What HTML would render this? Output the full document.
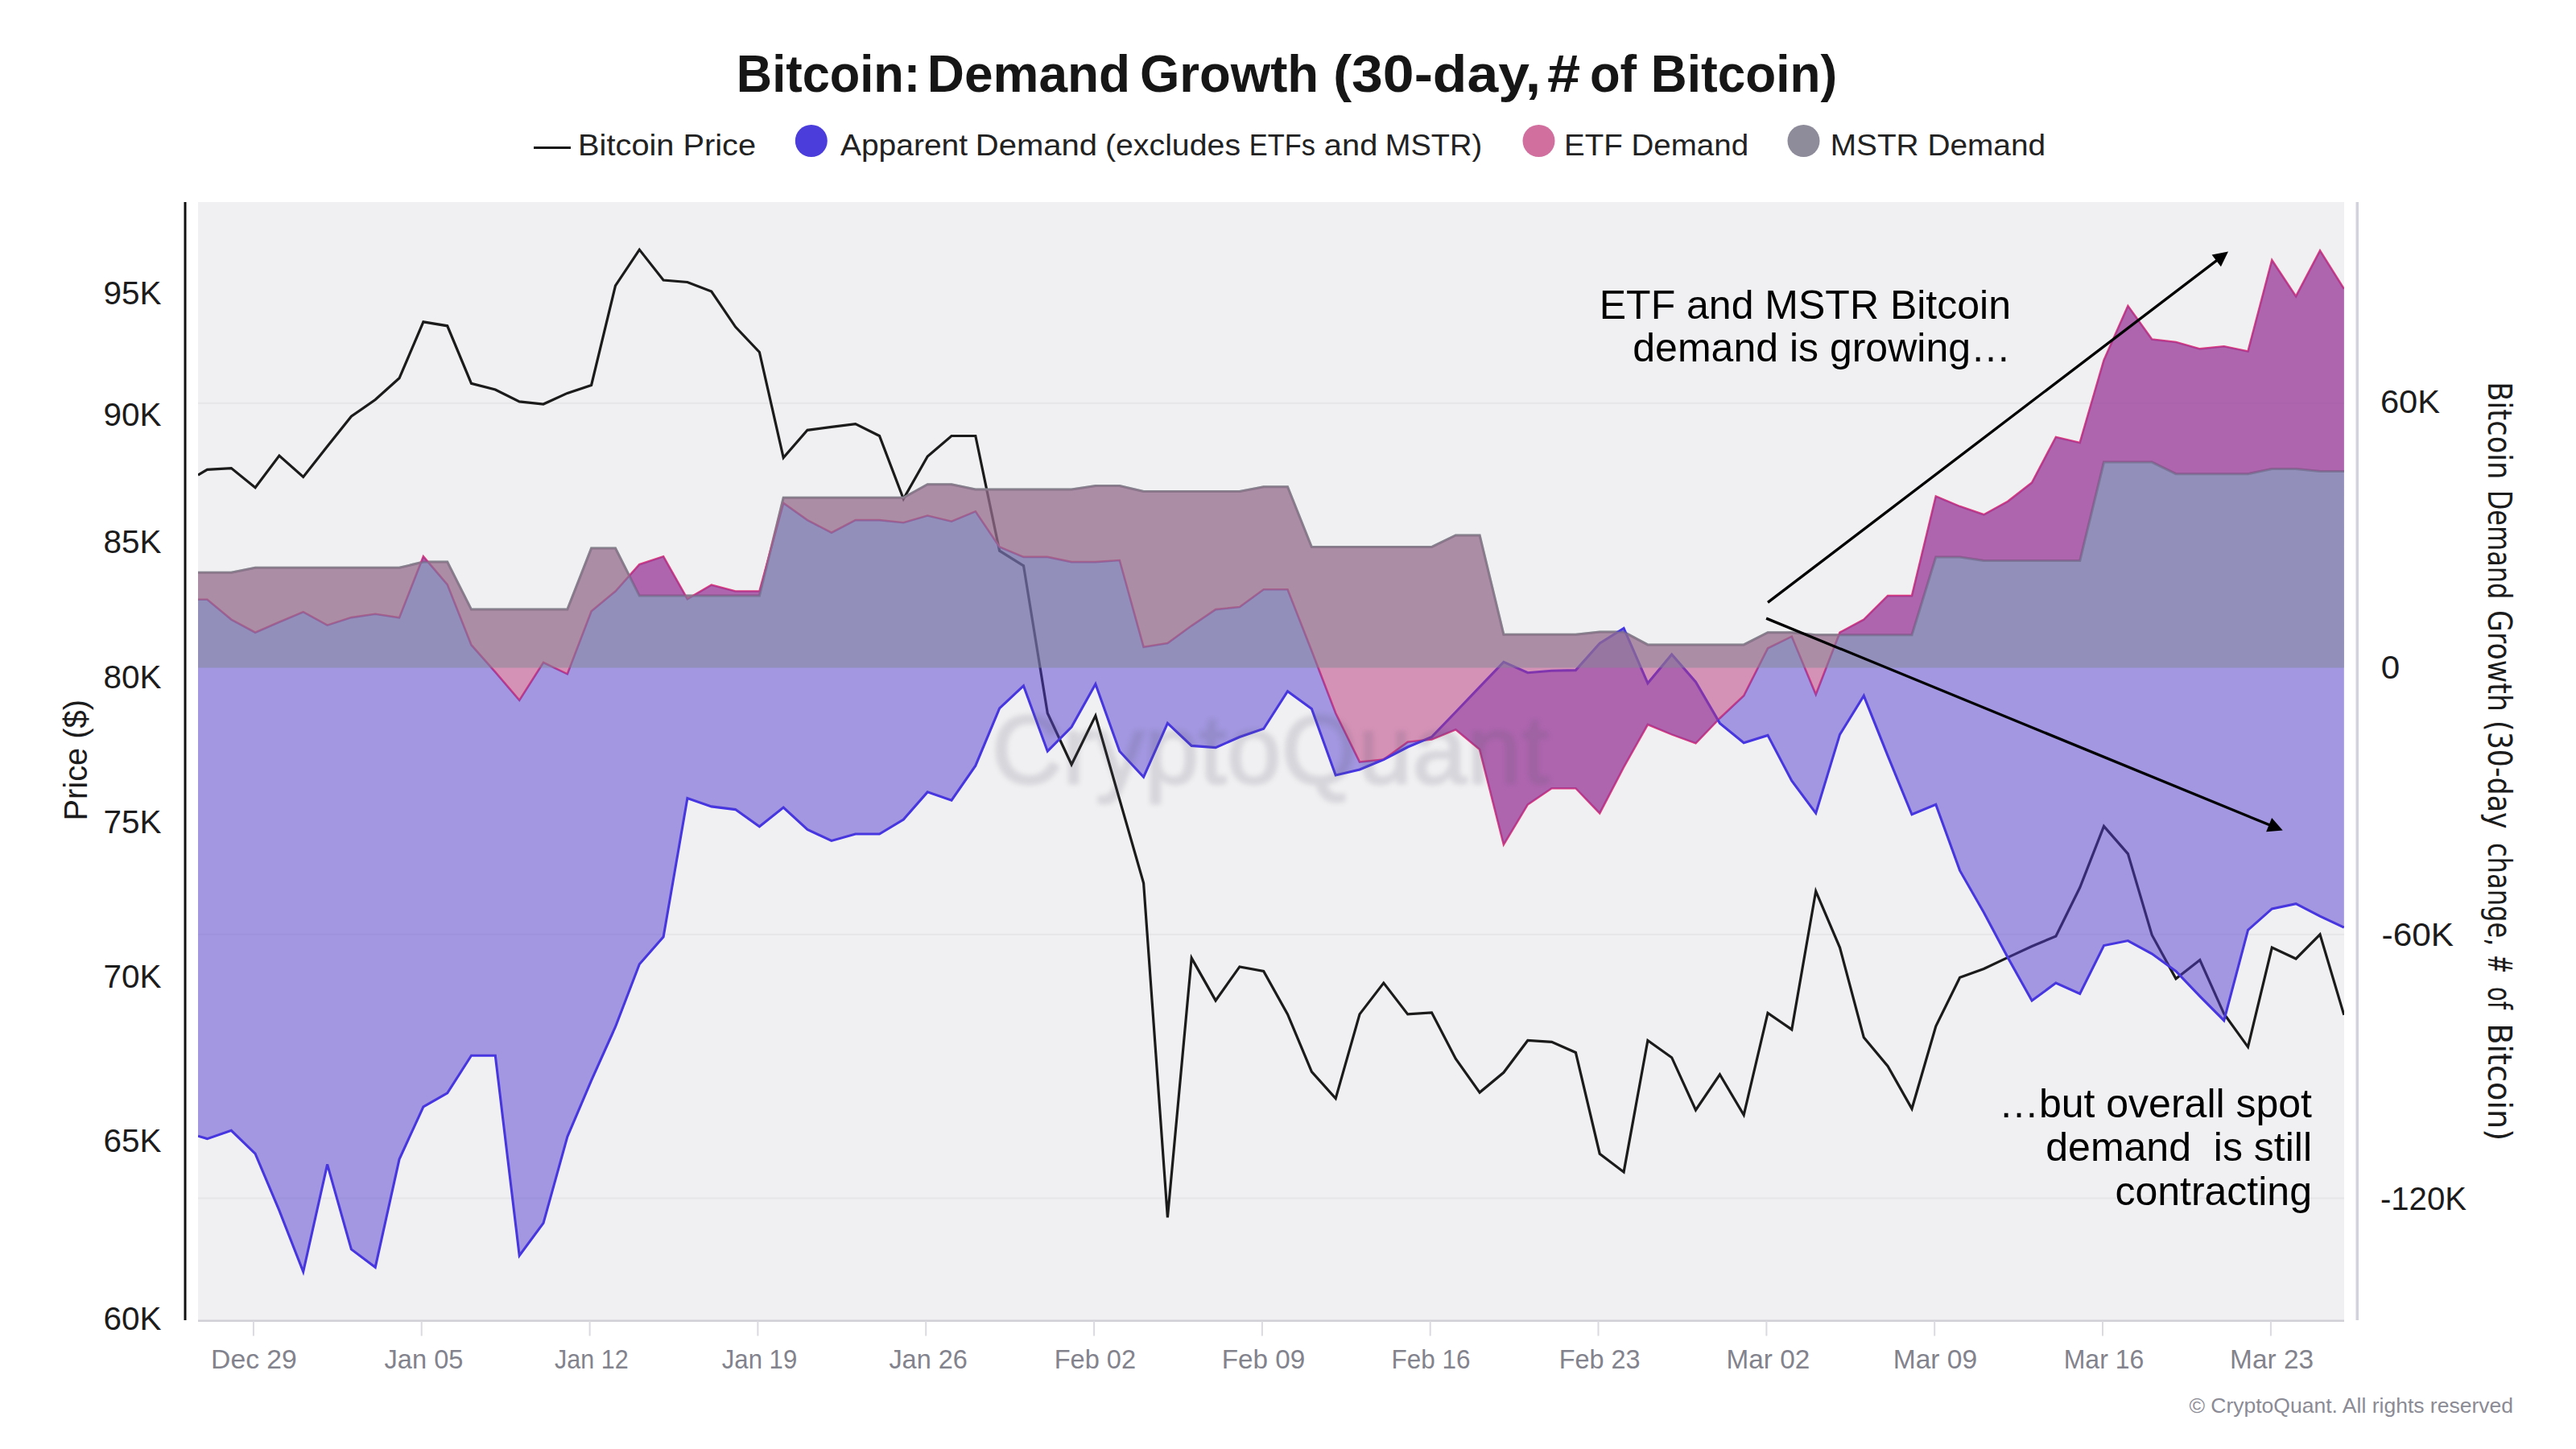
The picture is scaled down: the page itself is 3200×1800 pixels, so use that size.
<!DOCTYPE html>
<html lang="en"><head><meta charset="utf-8"><title>Bitcoin: Demand Growth (30-day, # of Bitcoin)</title>
<style>
html,body{margin:0;padding:0;background:#fff;}
body{width:3200px;height:1800px;overflow:hidden;font-family:"Liberation Sans",Arial,Helvetica,sans-serif;}
svg{display:block;}
</style></head><body>
<svg width="3200" height="1800" viewBox="0 0 3200 1800">
<defs><clipPath id="plot"><rect x="246" y="251" width="2666" height="1390"/></clipPath>
<filter id="blur" x="-5%" y="-20%" width="110%" height="140%"><feGaussianBlur stdDeviation="3.2"/></filter></defs>
<rect x="0" y="0" width="3200" height="1800" fill="#ffffff"/>

<g id="title">
<text x="914.85" y="113.5" font-family="Liberation Sans, Arial, Helvetica, sans-serif" font-size="64" font-weight="700" fill="#161616" textLength="228.40" lengthAdjust="spacingAndGlyphs">Bitcoin:</text>
<text x="1151.86" y="113.5" font-family="Liberation Sans, Arial, Helvetica, sans-serif" font-size="64" font-weight="700" fill="#161616" textLength="252.27" lengthAdjust="spacingAndGlyphs">Demand</text>
<text x="1415.93" y="113.5" font-family="Liberation Sans, Arial, Helvetica, sans-serif" font-size="64" font-weight="700" fill="#161616" textLength="222.17" lengthAdjust="spacingAndGlyphs">Growth</text>
<text x="1655.90" y="113.5" font-family="Liberation Sans, Arial, Helvetica, sans-serif" font-size="64" font-weight="700" fill="#161616" textLength="258.26" lengthAdjust="spacingAndGlyphs">(30-day,</text>
<text x="1921.94" y="113.5" font-family="Liberation Sans, Arial, Helvetica, sans-serif" font-size="64" font-weight="700" fill="#161616" textLength="41.13" lengthAdjust="spacingAndGlyphs">#</text>
<text x="1974.88" y="113.5" font-family="Liberation Sans, Arial, Helvetica, sans-serif" font-size="64" font-weight="700" fill="#161616" textLength="58.14" lengthAdjust="spacingAndGlyphs">of</text>
<text x="2050.86" y="113.5" font-family="Liberation Sans, Arial, Helvetica, sans-serif" font-size="64" font-weight="700" fill="#161616" textLength="231.26" lengthAdjust="spacingAndGlyphs">Bitcoin)</text>
</g>
<g id="legend">
<line x1="663" y1="183.5" x2="709" y2="183.5" stroke="#111" stroke-width="3"/>
<text x="718.11" y="193" font-family="Liberation Sans, Arial, Helvetica, sans-serif" font-size="37" fill="#222" textLength="220.94" lengthAdjust="spacingAndGlyphs">Bitcoin Price</text>
<circle cx="1007.8" cy="175" r="20" fill="#4b3ddc"/>
<text x="1044.00" y="193" font-family="Liberation Sans, Arial, Helvetica, sans-serif" font-size="37" fill="#222" textLength="158.00" lengthAdjust="spacingAndGlyphs">Apparent</text>
<text x="1211.87" y="193" font-family="Liberation Sans, Arial, Helvetica, sans-serif" font-size="37" fill="#222" textLength="151.22" lengthAdjust="spacingAndGlyphs">Demand</text>
<text x="1372.96" y="193" font-family="Liberation Sans, Arial, Helvetica, sans-serif" font-size="37" fill="#222" textLength="168.08" lengthAdjust="spacingAndGlyphs">(excludes</text>
<text x="1551.87" y="193" font-family="Liberation Sans, Arial, Helvetica, sans-serif" font-size="37" fill="#222" textLength="82.18" lengthAdjust="spacingAndGlyphs">ETFs</text>
<text x="1644.86" y="193" font-family="Liberation Sans, Arial, Helvetica, sans-serif" font-size="37" fill="#222" textLength="66.40" lengthAdjust="spacingAndGlyphs">and</text>
<text x="1720.86" y="193" font-family="Liberation Sans, Arial, Helvetica, sans-serif" font-size="37" fill="#222" textLength="120.23" lengthAdjust="spacingAndGlyphs">MSTR)</text>
<circle cx="1911.5" cy="175" r="20" fill="#d1709f"/>
<text x="1943.11" y="193" font-family="Liberation Sans, Arial, Helvetica, sans-serif" font-size="37" fill="#222" textLength="228.96" lengthAdjust="spacingAndGlyphs">ETF Demand</text>
<circle cx="2240.5" cy="175" r="20" fill="#8e8b9a"/>
<text x="2273.72" y="193" font-family="Liberation Sans, Arial, Helvetica, sans-serif" font-size="37" fill="#222" textLength="267.34" lengthAdjust="spacingAndGlyphs">MSTR Demand</text>
</g>
<rect x="246" y="251" width="2666" height="1390" fill="#f0f0f2"/>
<line x1="246" y1="500.8" x2="2912" y2="500.8" stroke="#e6e6e9" stroke-width="2"/>
<line x1="246" y1="1160.8" x2="2912" y2="1160.8" stroke="#e6e6e9" stroke-width="2"/>
<line x1="246" y1="1488.5" x2="2912" y2="1488.5" stroke="#e6e6e9" stroke-width="2"/>
<g clip-path="url(#plot)" fill="none" stroke-linejoin="miter" stroke-linecap="butt">
<path d="M246.0,590.2 L257.4,583.4 L287.3,581.6 L317.1,605.8 L346.9,566.0 L376.7,592.4 L406.6,554.5 L436.4,517.3 L466.2,496.5 L496.0,469.8 L525.9,399.9 L555.7,404.8 L585.5,476.3 L615.3,484.0 L645.2,498.9 L675.0,502.0 L704.8,488.4 L734.6,478.4 L764.5,354.8 L794.3,310.1 L824.1,348.0 L853.9,350.5 L883.8,362.0 L913.6,406.1 L943.4,437.5 L973.2,568.5 L1003.0,534.3 L1032.9,530.3 L1062.7,526.6 L1092.5,541.5 L1122.3,619.8 L1152.2,567.0 L1182.0,541.5 L1211.8,541.5 L1241.6,684.2 L1271.5,702.8 L1301.3,886.0 L1331.1,949.7 L1360.9,889.1 L1390.8,993.2 L1420.6,1097.0 L1450.4,1512.4 L1480.2,1190.1 L1510.1,1242.9 L1539.9,1200.9 L1569.7,1206.5 L1599.5,1259.9 L1629.4,1331.4 L1659.2,1364.6 L1689.0,1259.9 L1718.8,1221.1 L1748.7,1259.9 L1778.5,1257.8 L1808.3,1315.2 L1838.1,1357.1 L1867.9,1332.3 L1897.8,1292.5 L1927.6,1294.4 L1957.4,1307.5 L1987.2,1433.2 L2017.1,1455.9 L2046.9,1292.5 L2076.7,1313.7 L2106.5,1378.9 L2136.4,1334.8 L2166.2,1385.1 L2196.0,1258.4 L2225.8,1278.9 L2255.7,1107.1 L2285.5,1177.0 L2315.3,1288.8 L2345.1,1324.5 L2375.0,1377.3 L2404.8,1274.8 L2434.6,1214.3 L2464.4,1203.4 L2494.2,1189.4 L2524.1,1175.5 L2553.9,1163.0 L2583.7,1102.5 L2613.5,1026.4 L2643.4,1060.6 L2673.2,1161.5 L2703.0,1215.8 L2732.8,1192.5 L2762.7,1259.3 L2792.5,1300.6 L2822.3,1177.0 L2852.1,1191.0 L2882.0,1160.9 L2911.8,1260.9" stroke="#1b1b1b" stroke-width="3.2"/>
<path d="M246.0,711.2 L257.4,711.2 L287.3,711.2 L317.1,705.3 L346.9,705.3 L376.7,705.3 L406.6,705.3 L436.4,705.3 L466.2,705.3 L496.0,705.3 L525.9,698.1 L555.7,698.1 L585.5,757.1 L615.3,757.1 L645.2,757.1 L675.0,757.1 L704.8,757.1 L734.6,681.1 L764.5,681.1 L794.3,740.1 L824.1,740.1 L853.9,740.1 L883.8,740.1 L913.6,740.1 L943.4,740.1 L973.2,618.2 L1003.0,618.2 L1032.9,618.2 L1062.7,618.2 L1092.5,618.2 L1122.3,618.2 L1152.2,601.7 L1182.0,601.7 L1211.8,608.0 L1241.6,608.0 L1271.5,608.0 L1301.3,608.0 L1331.1,608.0 L1360.9,603.6 L1390.8,603.6 L1420.6,610.4 L1450.4,610.4 L1480.2,610.4 L1510.1,610.4 L1539.9,610.4 L1569.7,604.8 L1599.5,604.8 L1629.4,679.5 L1659.2,679.5 L1689.0,679.5 L1718.8,679.5 L1748.7,679.5 L1778.5,679.5 L1808.3,664.9 L1838.1,664.9 L1867.9,788.2 L1897.8,788.2 L1927.6,788.2 L1957.4,788.2 L1987.2,785.1 L2017.1,785.1 L2046.9,800.9 L2076.7,800.9 L2106.5,800.9 L2136.4,800.9 L2166.2,800.9 L2196.0,785.7 L2225.8,785.7 L2255.7,788.8 L2285.5,788.8 L2315.3,788.8 L2345.1,788.8 L2375.0,788.8 L2404.8,691.9 L2434.6,691.9 L2464.4,696.6 L2494.2,696.6 L2524.1,696.6 L2553.9,696.6 L2583.7,696.6 L2613.5,574.1 L2643.4,574.1 L2673.2,574.1 L2703.0,588.7 L2732.8,588.7 L2762.7,588.7 L2792.5,588.7 L2822.3,582.5 L2852.1,582.5 L2882.0,585.6 L2911.8,585.6" stroke="#8a8792" stroke-width="3"/>
<path d="M246.0,744.7 L257.4,744.7 L287.3,769.6 L317.1,785.7 L346.9,772.7 L376.7,760.2 L406.6,776.7 L436.4,767.1 L466.2,762.7 L496.0,767.4 L525.9,691.3 L555.7,726.1 L585.5,801.2 L615.3,834.8 L645.2,869.9 L675.0,823.0 L704.8,837.3 L734.6,759.3 L764.5,734.5 L794.3,701.2 L824.1,691.3 L853.9,744.1 L883.8,726.7 L913.6,734.5 L943.4,734.5 L973.2,625.0 L1003.0,646.1 L1032.9,661.7 L1062.7,646.1 L1092.5,646.1 L1122.3,649.3 L1152.2,640.6 L1182.0,647.7 L1211.8,635.3 L1241.6,679.5 L1271.5,691.9 L1301.3,691.9 L1331.1,698.1 L1360.9,698.1 L1390.8,696.0 L1420.6,803.7 L1450.4,799.1 L1480.2,777.3 L1510.1,757.1 L1539.9,754.0 L1569.7,732.3 L1599.5,732.3 L1629.4,808.4 L1659.2,886.0 L1689.0,946.6 L1718.8,943.5 L1748.7,921.7 L1778.5,918.6 L1808.3,906.2 L1838.1,931.1 L1867.9,1049.1 L1897.8,999.4 L1927.6,979.2 L1957.4,979.2 L1987.2,1010.2 L2017.1,952.8 L2046.9,900.0 L2076.7,912.4 L2106.5,923.3 L2136.4,892.2 L2166.2,864.3 L2196.0,805.3 L2225.8,790.7 L2255.7,862.7 L2285.5,785.7 L2315.3,769.6 L2345.1,740.1 L2375.0,740.1 L2404.8,616.6 L2434.6,629.1 L2464.4,639.3 L2494.2,622.9 L2524.1,599.6 L2553.9,543.0 L2583.7,549.9 L2613.5,447.4 L2643.4,380.0 L2673.2,421.6 L2703.0,425.0 L2732.8,433.4 L2762.7,430.3 L2792.5,436.5 L2822.3,323.2 L2852.1,368.2 L2882.0,311.4 L2911.8,358.9" stroke="rgb(220,62,128)" stroke-width="2.6"/>
<path d="M246.0,1411.2 L257.4,1414.6 L287.3,1404.3 L317.1,1433.2 L346.9,1503.7 L376.7,1579.8 L406.6,1446.3 L436.4,1551.9 L466.2,1574.2 L496.0,1440.1 L525.9,1374.8 L555.7,1357.8 L585.5,1311.2 L615.3,1311.2 L645.2,1559.6 L675.0,1519.3 L704.8,1412.1 L734.6,1342.2 L764.5,1275.5 L794.3,1197.8 L824.1,1163.7 L853.9,991.6 L883.8,1001.9 L913.6,1005.6 L943.4,1026.7 L973.2,1003.1 L1003.0,1030.4 L1032.9,1044.4 L1062.7,1036.0 L1092.5,1036.0 L1122.3,1018.0 L1152.2,983.9 L1182.0,994.1 L1211.8,951.2 L1241.6,879.8 L1271.5,851.9 L1301.3,933.2 L1331.1,903.1 L1360.9,849.7 L1390.8,933.2 L1420.6,965.2 L1450.4,898.4 L1480.2,926.4 L1510.1,928.6 L1539.9,915.5 L1569.7,905.3 L1599.5,858.7 L1629.4,880.4 L1659.2,963.0 L1689.0,955.9 L1718.8,943.5 L1748.7,928.0 L1778.5,915.5 L1808.3,884.5 L1838.1,853.4 L1867.9,822.4 L1897.8,835.7 L1927.6,833.2 L1957.4,832.6 L1987.2,799.1 L2017.1,780.4 L2046.9,848.8 L2076.7,813.0 L2106.5,847.2 L2136.4,898.4 L2166.2,922.7 L2196.0,913.4 L2225.8,969.9 L2255.7,1010.2 L2285.5,912.4 L2315.3,864.3 L2345.1,938.8 L2375.0,1011.8 L2404.8,999.4 L2434.6,1081.4 L2464.4,1133.5 L2494.2,1189.4 L2524.1,1242.9 L2553.9,1221.1 L2583.7,1234.5 L2613.5,1174.5 L2643.4,1168.6 L2673.2,1184.8 L2703.0,1206.5 L2732.8,1237.6 L2762.7,1267.7 L2792.5,1155.3 L2822.3,1128.9 L2852.1,1122.7 L2882.0,1138.2 L2911.8,1152.2" stroke="#4334e6" stroke-width="3.1"/>
<path d="M246.0,1411.2 L257.4,1414.6 L287.3,1404.3 L317.1,1433.2 L346.9,1503.7 L376.7,1579.8 L406.6,1446.3 L436.4,1551.9 L466.2,1574.2 L496.0,1440.1 L525.9,1374.8 L555.7,1357.8 L585.5,1311.2 L615.3,1311.2 L645.2,1559.6 L675.0,1519.3 L704.8,1412.1 L734.6,1342.2 L764.5,1275.5 L794.3,1197.8 L824.1,1163.7 L853.9,991.6 L883.8,1001.9 L913.6,1005.6 L943.4,1026.7 L973.2,1003.1 L1003.0,1030.4 L1032.9,1044.4 L1062.7,1036.0 L1092.5,1036.0 L1122.3,1018.0 L1152.2,983.9 L1182.0,994.1 L1211.8,951.2 L1241.6,879.8 L1271.5,851.9 L1301.3,933.2 L1331.1,903.1 L1360.9,849.7 L1390.8,933.2 L1420.6,965.2 L1450.4,898.4 L1480.2,926.4 L1510.1,928.6 L1539.9,915.5 L1569.7,905.3 L1599.5,858.7 L1629.4,880.4 L1659.2,963.0 L1689.0,955.9 L1718.8,943.5 L1748.7,928.0 L1778.5,915.5 L1808.3,884.5 L1838.1,853.4 L1867.9,822.4 L1897.8,835.7 L1927.6,833.2 L1957.4,832.6 L1987.2,799.1 L2017.1,780.4 L2046.9,848.8 L2076.7,813.0 L2106.5,847.2 L2136.4,898.4 L2166.2,922.7 L2196.0,913.4 L2225.8,969.9 L2255.7,1010.2 L2285.5,912.4 L2315.3,864.3 L2345.1,938.8 L2375.0,1011.8 L2404.8,999.4 L2434.6,1081.4 L2464.4,1133.5 L2494.2,1189.4 L2524.1,1242.9 L2553.9,1221.1 L2583.7,1234.5 L2613.5,1174.5 L2643.4,1168.6 L2673.2,1184.8 L2703.0,1206.5 L2732.8,1237.6 L2762.7,1267.7 L2792.5,1155.3 L2822.3,1128.9 L2852.1,1122.7 L2882.0,1138.2 L2911.8,1152.2 L2911.8,358.9 L2882.0,311.4 L2852.1,368.2 L2822.3,323.2 L2792.5,436.5 L2762.7,430.3 L2732.8,433.4 L2703.0,425.0 L2673.2,421.6 L2643.4,380.0 L2613.5,447.4 L2583.7,549.9 L2553.9,543.0 L2524.1,599.6 L2494.2,622.9 L2464.4,639.3 L2434.6,629.1 L2404.8,616.6 L2375.0,740.1 L2345.1,740.1 L2315.3,769.6 L2285.5,785.7 L2255.7,862.7 L2225.8,790.7 L2196.0,805.3 L2166.2,864.3 L2136.4,892.2 L2106.5,923.3 L2076.7,912.4 L2046.9,900.0 L2017.1,952.8 L1987.2,1010.2 L1957.4,979.2 L1927.6,979.2 L1897.8,999.4 L1867.9,1049.1 L1838.1,931.1 L1808.3,906.2 L1778.5,918.6 L1748.7,921.7 L1718.8,943.5 L1689.0,946.6 L1659.2,886.0 L1629.4,808.4 L1599.5,732.3 L1569.7,732.3 L1539.9,754.0 L1510.1,757.1 L1480.2,777.3 L1450.4,799.1 L1420.6,803.7 L1390.8,696.0 L1360.9,698.1 L1331.1,698.1 L1301.3,691.9 L1271.5,691.9 L1241.6,679.5 L1211.8,635.3 L1182.0,647.7 L1152.2,640.6 L1122.3,649.3 L1092.5,646.1 L1062.7,646.1 L1032.9,661.7 L1003.0,646.1 L973.2,625.0 L943.4,734.5 L913.6,734.5 L883.8,726.7 L853.9,744.1 L824.1,691.3 L794.3,701.2 L764.5,734.5 L734.6,759.3 L704.8,837.3 L675.0,823.0 L645.2,869.9 L615.3,834.8 L585.5,801.2 L555.7,726.1 L525.9,691.3 L496.0,767.4 L466.2,762.7 L436.4,767.1 L406.6,776.7 L376.7,760.2 L346.9,772.7 L317.1,785.7 L287.3,769.6 L257.4,744.7 L246.0,744.7 Z" fill="rgb(84,62,206)" fill-opacity="0.5" stroke="none"/>
<path d="M246.0,744.7 L257.4,744.7 L287.3,769.6 L317.1,785.7 L346.9,772.7 L376.7,760.2 L406.6,776.7 L436.4,767.1 L466.2,762.7 L496.0,767.4 L525.9,691.3 L555.7,726.1 L585.5,801.2 L615.3,834.8 L645.2,869.9 L675.0,823.0 L704.8,837.3 L734.6,759.3 L764.5,734.5 L794.3,701.2 L824.1,691.3 L853.9,744.1 L883.8,726.7 L913.6,734.5 L943.4,734.5 L973.2,625.0 L1003.0,646.1 L1032.9,661.7 L1062.7,646.1 L1092.5,646.1 L1122.3,649.3 L1152.2,640.6 L1182.0,647.7 L1211.8,635.3 L1241.6,679.5 L1271.5,691.9 L1301.3,691.9 L1331.1,698.1 L1360.9,698.1 L1390.8,696.0 L1420.6,803.7 L1450.4,799.1 L1480.2,777.3 L1510.1,757.1 L1539.9,754.0 L1569.7,732.3 L1599.5,732.3 L1629.4,808.4 L1659.2,886.0 L1689.0,946.6 L1718.8,943.5 L1748.7,921.7 L1778.5,918.6 L1808.3,906.2 L1838.1,931.1 L1867.9,1049.1 L1897.8,999.4 L1927.6,979.2 L1957.4,979.2 L1987.2,1010.2 L2017.1,952.8 L2046.9,900.0 L2076.7,912.4 L2106.5,923.3 L2136.4,892.2 L2166.2,864.3 L2196.0,805.3 L2225.8,790.7 L2255.7,862.7 L2285.5,785.7 L2315.3,769.6 L2345.1,740.1 L2375.0,740.1 L2404.8,616.6 L2434.6,629.1 L2464.4,639.3 L2494.2,622.9 L2524.1,599.6 L2553.9,543.0 L2583.7,549.9 L2613.5,447.4 L2643.4,380.0 L2673.2,421.6 L2703.0,425.0 L2732.8,433.4 L2762.7,430.3 L2792.5,436.5 L2822.3,323.2 L2852.1,368.2 L2882.0,311.4 L2911.8,358.9 L2911.8,585.6 L2882.0,585.6 L2852.1,582.5 L2822.3,582.5 L2792.5,588.7 L2762.7,588.7 L2732.8,588.7 L2703.0,588.7 L2673.2,574.1 L2643.4,574.1 L2613.5,574.1 L2583.7,696.6 L2553.9,696.6 L2524.1,696.6 L2494.2,696.6 L2464.4,696.6 L2434.6,691.9 L2404.8,691.9 L2375.0,788.8 L2345.1,788.8 L2315.3,788.8 L2285.5,788.8 L2255.7,788.8 L2225.8,785.7 L2196.0,785.7 L2166.2,800.9 L2136.4,800.9 L2106.5,800.9 L2076.7,800.9 L2046.9,800.9 L2017.1,785.1 L1987.2,785.1 L1957.4,788.2 L1927.6,788.2 L1897.8,788.2 L1867.9,788.2 L1838.1,664.9 L1808.3,664.9 L1778.5,679.5 L1748.7,679.5 L1718.8,679.5 L1689.0,679.5 L1659.2,679.5 L1629.4,679.5 L1599.5,604.8 L1569.7,604.8 L1539.9,610.4 L1510.1,610.4 L1480.2,610.4 L1450.4,610.4 L1420.6,610.4 L1390.8,603.6 L1360.9,603.6 L1331.1,608.0 L1301.3,608.0 L1271.5,608.0 L1241.6,608.0 L1211.8,608.0 L1182.0,601.7 L1152.2,601.7 L1122.3,618.2 L1092.5,618.2 L1062.7,618.2 L1032.9,618.2 L1003.0,618.2 L973.2,618.2 L943.4,740.1 L913.6,740.1 L883.8,740.1 L853.9,740.1 L824.1,740.1 L794.3,740.1 L764.5,681.1 L734.6,681.1 L704.8,757.1 L675.0,757.1 L645.2,757.1 L615.3,757.1 L585.5,757.1 L555.7,698.1 L525.9,698.1 L496.0,705.3 L466.2,705.3 L436.4,705.3 L406.6,705.3 L376.7,705.3 L346.9,705.3 L317.1,705.3 L287.3,711.2 L257.4,711.2 L246.0,711.2 Z" fill="rgb(186,52,124)" fill-opacity="0.5" stroke="none"/>
<path d="M246.0,711.2 L257.4,711.2 L287.3,711.2 L317.1,705.3 L346.9,705.3 L376.7,705.3 L406.6,705.3 L436.4,705.3 L466.2,705.3 L496.0,705.3 L525.9,698.1 L555.7,698.1 L585.5,757.1 L615.3,757.1 L645.2,757.1 L675.0,757.1 L704.8,757.1 L734.6,681.1 L764.5,681.1 L794.3,740.1 L824.1,740.1 L853.9,740.1 L883.8,740.1 L913.6,740.1 L943.4,740.1 L973.2,618.2 L1003.0,618.2 L1032.9,618.2 L1062.7,618.2 L1092.5,618.2 L1122.3,618.2 L1152.2,601.7 L1182.0,601.7 L1211.8,608.0 L1241.6,608.0 L1271.5,608.0 L1301.3,608.0 L1331.1,608.0 L1360.9,603.6 L1390.8,603.6 L1420.6,610.4 L1450.4,610.4 L1480.2,610.4 L1510.1,610.4 L1539.9,610.4 L1569.7,604.8 L1599.5,604.8 L1629.4,679.5 L1659.2,679.5 L1689.0,679.5 L1718.8,679.5 L1748.7,679.5 L1778.5,679.5 L1808.3,664.9 L1838.1,664.9 L1867.9,788.2 L1897.8,788.2 L1927.6,788.2 L1957.4,788.2 L1987.2,785.1 L2017.1,785.1 L2046.9,800.9 L2076.7,800.9 L2106.5,800.9 L2136.4,800.9 L2166.2,800.9 L2196.0,785.7 L2225.8,785.7 L2255.7,788.8 L2285.5,788.8 L2315.3,788.8 L2345.1,788.8 L2375.0,788.8 L2404.8,691.9 L2434.6,691.9 L2464.4,696.6 L2494.2,696.6 L2524.1,696.6 L2553.9,696.6 L2583.7,696.6 L2613.5,574.1 L2643.4,574.1 L2673.2,574.1 L2703.0,588.7 L2732.8,588.7 L2762.7,588.7 L2792.5,588.7 L2822.3,582.5 L2852.1,582.5 L2882.0,585.6 L2911.8,585.6 L2912.0,829.5 L246.0,829.5 Z" fill="rgb(130,136,150)" fill-opacity="0.5" stroke="none"/>
<path d="M246.0,711.2 L257.4,711.2 L287.3,711.2 L317.1,705.3 L346.9,705.3 L376.7,705.3 L406.6,705.3 L436.4,705.3 L466.2,705.3 L496.0,705.3 L525.9,698.1 L555.7,698.1 L585.5,757.1 L615.3,757.1 L645.2,757.1 L675.0,757.1 L704.8,757.1 L734.6,681.1 L764.5,681.1 L794.3,740.1 L824.1,740.1 L853.9,740.1 L883.8,740.1 L913.6,740.1 L943.4,740.1 L973.2,618.2 L1003.0,618.2 L1032.9,618.2 L1062.7,618.2 L1092.5,618.2 L1122.3,618.2 L1152.2,601.7 L1182.0,601.7 L1211.8,608.0 L1241.6,608.0 L1271.5,608.0 L1301.3,608.0 L1331.1,608.0 L1360.9,603.6 L1390.8,603.6 L1420.6,610.4 L1450.4,610.4 L1480.2,610.4 L1510.1,610.4 L1539.9,610.4 L1569.7,604.8 L1599.5,604.8 L1629.4,679.5 L1659.2,679.5 L1689.0,679.5 L1718.8,679.5 L1748.7,679.5 L1778.5,679.5 L1808.3,664.9 L1838.1,664.9 L1867.9,788.2 L1897.8,788.2 L1927.6,788.2 L1957.4,788.2 L1987.2,785.1 L2017.1,785.1 L2046.9,800.9 L2076.7,800.9 L2106.5,800.9 L2136.4,800.9 L2166.2,800.9 L2196.0,785.7 L2225.8,785.7 L2255.7,788.8 L2285.5,788.8 L2315.3,788.8 L2345.1,788.8 L2375.0,788.8 L2404.8,691.9 L2434.6,691.9 L2464.4,696.6 L2494.2,696.6 L2524.1,696.6 L2553.9,696.6 L2583.7,696.6 L2613.5,574.1 L2643.4,574.1 L2673.2,574.1 L2703.0,588.7 L2732.8,588.7 L2762.7,588.7 L2792.5,588.7 L2822.3,582.5 L2852.1,582.5 L2882.0,585.6 L2911.8,585.6" stroke="#7d7b86" stroke-opacity="0.35" stroke-width="3"/>
</g>
<text x="1232" y="973" font-family="Liberation Sans, Arial, Helvetica, sans-serif" font-size="121" fill="#55556a" stroke="#55556a" stroke-width="2.5" opacity="0.17" filter="url(#blur)" textLength="692" lengthAdjust="spacing">CryptoQuant</text>
<rect x="228.5" y="251" width="3" height="1389" fill="#111"/>
<rect x="2926.5" y="251" width="3.5" height="1389" fill="#d2d2dc"/>
<rect x="246" y="1639.5" width="2666" height="2.5" fill="#d0d0d6"/>
<rect x="313.9" y="1641" width="2" height="18.5" fill="#dadae0"/>
<rect x="522.7" y="1641" width="2" height="18.5" fill="#dadae0"/>
<rect x="731.6" y="1641" width="2" height="18.5" fill="#dadae0"/>
<rect x="940.4" y="1641" width="2" height="18.5" fill="#dadae0"/>
<rect x="1149.2" y="1641" width="2" height="18.5" fill="#dadae0"/>
<rect x="1358.1" y="1641" width="2" height="18.5" fill="#dadae0"/>
<rect x="1566.9" y="1641" width="2" height="18.5" fill="#dadae0"/>
<rect x="1775.7" y="1641" width="2" height="18.5" fill="#dadae0"/>
<rect x="1984.5" y="1641" width="2" height="18.5" fill="#dadae0"/>
<rect x="2193.4" y="1641" width="2" height="18.5" fill="#dadae0"/>
<rect x="2402.2" y="1641" width="2" height="18.5" fill="#dadae0"/>
<rect x="2611.0" y="1641" width="2" height="18.5" fill="#dadae0"/>
<rect x="2819.9" y="1641" width="2" height="18.5" fill="#dadae0"/>
<g id="xlabels">
<text x="262.07" y="1700" font-family="Liberation Sans, Arial, Helvetica, sans-serif" font-size="33" fill="#83838d" textLength="106.80" lengthAdjust="spacingAndGlyphs">Dec 29</text>
<text x="477.59" y="1700" font-family="Liberation Sans, Arial, Helvetica, sans-serif" font-size="33" fill="#83838d" textLength="97.82" lengthAdjust="spacingAndGlyphs">Jan 05</text>
<text x="688.99" y="1700" font-family="Liberation Sans, Arial, Helvetica, sans-serif" font-size="33" fill="#83838d" textLength="91.64" lengthAdjust="spacingAndGlyphs">Jan 12</text>
<text x="896.79" y="1700" font-family="Liberation Sans, Arial, Helvetica, sans-serif" font-size="33" fill="#83838d" textLength="93.43" lengthAdjust="spacingAndGlyphs">Jan 19</text>
<text x="1104.40" y="1700" font-family="Liberation Sans, Arial, Helvetica, sans-serif" font-size="33" fill="#83838d" textLength="97.43" lengthAdjust="spacingAndGlyphs">Jan 26</text>
<text x="1309.73" y="1700" font-family="Liberation Sans, Arial, Helvetica, sans-serif" font-size="33" fill="#83838d" textLength="101.32" lengthAdjust="spacingAndGlyphs">Feb 02</text>
<text x="1517.68" y="1700" font-family="Liberation Sans, Arial, Helvetica, sans-serif" font-size="33" fill="#83838d" textLength="103.60" lengthAdjust="spacingAndGlyphs">Feb 09</text>
<text x="1728.52" y="1700" font-family="Liberation Sans, Arial, Helvetica, sans-serif" font-size="33" fill="#83838d" textLength="97.93" lengthAdjust="spacingAndGlyphs">Feb 16</text>
<text x="1936.73" y="1700" font-family="Liberation Sans, Arial, Helvetica, sans-serif" font-size="33" fill="#83838d" textLength="100.93" lengthAdjust="spacingAndGlyphs">Feb 23</text>
<text x="2144.50" y="1700" font-family="Liberation Sans, Arial, Helvetica, sans-serif" font-size="33" fill="#83838d" textLength="103.77" lengthAdjust="spacingAndGlyphs">Mar 02</text>
<text x="2351.70" y="1700" font-family="Liberation Sans, Arial, Helvetica, sans-serif" font-size="33" fill="#83838d" textLength="104.55" lengthAdjust="spacingAndGlyphs">Mar 09</text>
<text x="2563.71" y="1700" font-family="Liberation Sans, Arial, Helvetica, sans-serif" font-size="33" fill="#83838d" textLength="99.56" lengthAdjust="spacingAndGlyphs">Mar 16</text>
<text x="2770.10" y="1700" font-family="Liberation Sans, Arial, Helvetica, sans-serif" font-size="33" fill="#83838d" textLength="103.97" lengthAdjust="spacingAndGlyphs">Mar 23</text>
</g>
<text x="200.5" y="378.2" text-anchor="end" font-family="Liberation Sans, Arial, Helvetica, sans-serif" font-size="40.5" fill="#1c1c1c">95K</text>
<text x="200.5" y="528.8" text-anchor="end" font-family="Liberation Sans, Arial, Helvetica, sans-serif" font-size="40.5" fill="#1c1c1c">90K</text>
<text x="200.5" y="686.7" text-anchor="end" font-family="Liberation Sans, Arial, Helvetica, sans-serif" font-size="40.5" fill="#1c1c1c">85K</text>
<text x="200.5" y="855.1" text-anchor="end" font-family="Liberation Sans, Arial, Helvetica, sans-serif" font-size="40.5" fill="#1c1c1c">80K</text>
<text x="200.5" y="1035.1" text-anchor="end" font-family="Liberation Sans, Arial, Helvetica, sans-serif" font-size="40.5" fill="#1c1c1c">75K</text>
<text x="200.5" y="1226.8" text-anchor="end" font-family="Liberation Sans, Arial, Helvetica, sans-serif" font-size="40.5" fill="#1c1c1c">70K</text>
<text x="200.5" y="1430.6" text-anchor="end" font-family="Liberation Sans, Arial, Helvetica, sans-serif" font-size="40.5" fill="#1c1c1c">65K</text>
<text x="200.5" y="1652.4" text-anchor="end" font-family="Liberation Sans, Arial, Helvetica, sans-serif" font-size="40.5" fill="#1c1c1c">60K</text>
<text transform="translate(107.5,944.3) rotate(-90)" text-anchor="middle" font-family="Liberation Sans, Arial, Helvetica, sans-serif" font-size="39.8" fill="#1c1c1c">Price ($)</text>
<g id="rlabels">
<text x="2956.91" y="513.0" font-family="Liberation Sans, Arial, Helvetica, sans-serif" font-size="40" fill="#1c1c1c" textLength="74.13" lengthAdjust="spacingAndGlyphs">60K</text>
<text x="2957.88" y="843.0" font-family="Liberation Sans, Arial, Helvetica, sans-serif" font-size="40" fill="#1c1c1c" textLength="23.44" lengthAdjust="spacingAndGlyphs">0</text>
<text x="2958.56" y="1175.0" font-family="Liberation Sans, Arial, Helvetica, sans-serif" font-size="40" fill="#1c1c1c" textLength="89.46" lengthAdjust="spacingAndGlyphs">-60K</text>
<text x="2956.94" y="1502.8" font-family="Liberation Sans, Arial, Helvetica, sans-serif" font-size="40" fill="#1c1c1c" textLength="107.09" lengthAdjust="spacingAndGlyphs">-120K</text>
</g>
<g id="rtitle">
<text transform="translate(3091.3,0) rotate(90)" x="474.23" y="0" font-family="DejaVu Sans, Verdana, sans-serif" font-stretch="condensed" font-size="40.5" fill="#1c1c1c" textLength="121.33" lengthAdjust="spacingAndGlyphs">Bitcoin</text>
<text transform="translate(3091.3,0) rotate(90)" x="608.64" y="0" font-family="DejaVu Sans, Verdana, sans-serif" font-stretch="condensed" font-size="40.5" fill="#1c1c1c" textLength="135.72" lengthAdjust="spacingAndGlyphs">Demand</text>
<text transform="translate(3091.3,0) rotate(90)" x="758.11" y="0" font-family="DejaVu Sans, Verdana, sans-serif" font-stretch="condensed" font-size="40.5" fill="#1c1c1c" textLength="125.85" lengthAdjust="spacingAndGlyphs">Growth</text>
<text transform="translate(3091.3,0) rotate(90)" x="895.10" y="0" font-family="DejaVu Sans, Verdana, sans-serif" font-stretch="condensed" font-size="40.5" fill="#1c1c1c" textLength="134.54" lengthAdjust="spacingAndGlyphs">(30-day</text>
<text transform="translate(3091.3,0) rotate(90)" x="1046.92" y="0" font-family="DejaVu Sans, Verdana, sans-serif" font-stretch="condensed" font-size="40.5" fill="#1c1c1c" textLength="128.63" lengthAdjust="spacingAndGlyphs">change,</text>
<text transform="translate(3091.3,0) rotate(90)" x="1186.00" y="0" font-family="DejaVu Sans, Verdana, sans-serif" font-stretch="condensed" font-size="40.5" fill="#1c1c1c" textLength="23.14" lengthAdjust="spacingAndGlyphs">#</text>
<text transform="translate(3091.3,0) rotate(90)" x="1225.89" y="0" font-family="DejaVu Sans, Verdana, sans-serif" font-stretch="condensed" font-size="40.5" fill="#1c1c1c" textLength="28.11" lengthAdjust="spacingAndGlyphs">of</text>
<text transform="translate(3091.3,0) rotate(90)" x="1271.18" y="0" font-family="DejaVu Sans, Verdana, sans-serif" font-stretch="condensed" font-size="40.5" fill="#1c1c1c" textLength="146.02" lengthAdjust="spacingAndGlyphs">Bitcoin)</text>
</g>
<text x="2498" y="396" text-anchor="end" font-family="Liberation Sans, Arial, Helvetica, sans-serif" font-size="50" fill="#000">ETF and MSTR Bitcoin</text>
<text x="2498" y="449" text-anchor="end" font-family="Liberation Sans, Arial, Helvetica, sans-serif" font-size="50" fill="#000">demand is growing…</text>
<text x="2872" y="1388" text-anchor="end" font-family="Liberation Sans, Arial, Helvetica, sans-serif" font-size="50" fill="#000">…but overall spot</text>
<text x="2872" y="1441.5" text-anchor="end" font-family="Liberation Sans, Arial, Helvetica, sans-serif" font-size="50" fill="#000" xml:space="preserve">demand  is still</text>
<text x="2872" y="1496.5" text-anchor="end" font-family="Liberation Sans, Arial, Helvetica, sans-serif" font-size="50" fill="#000">contracting</text>
<line x1="2196.0" y1="748.4" x2="2754.9" y2="322.6" stroke="#000" stroke-width="3.3"/><polygon points="2768.0,312.6 2758.9,331.2 2747.6,316.4" fill="#000"/>
<line x1="2194.1" y1="768.1" x2="2820.4" y2="1025.3" stroke="#000" stroke-width="3.3"/><polygon points="2835.7,1031.6 2815.1,1033.2 2822.1,1016.0" fill="#000"/>
<text x="2719.40" y="1755" font-family="Liberation Sans, Arial, Helvetica, sans-serif" font-size="26.5" fill="#8b8b95" textLength="402.61" lengthAdjust="spacingAndGlyphs">© CryptoQuant. All rights reserved</text>
</svg></body></html>
